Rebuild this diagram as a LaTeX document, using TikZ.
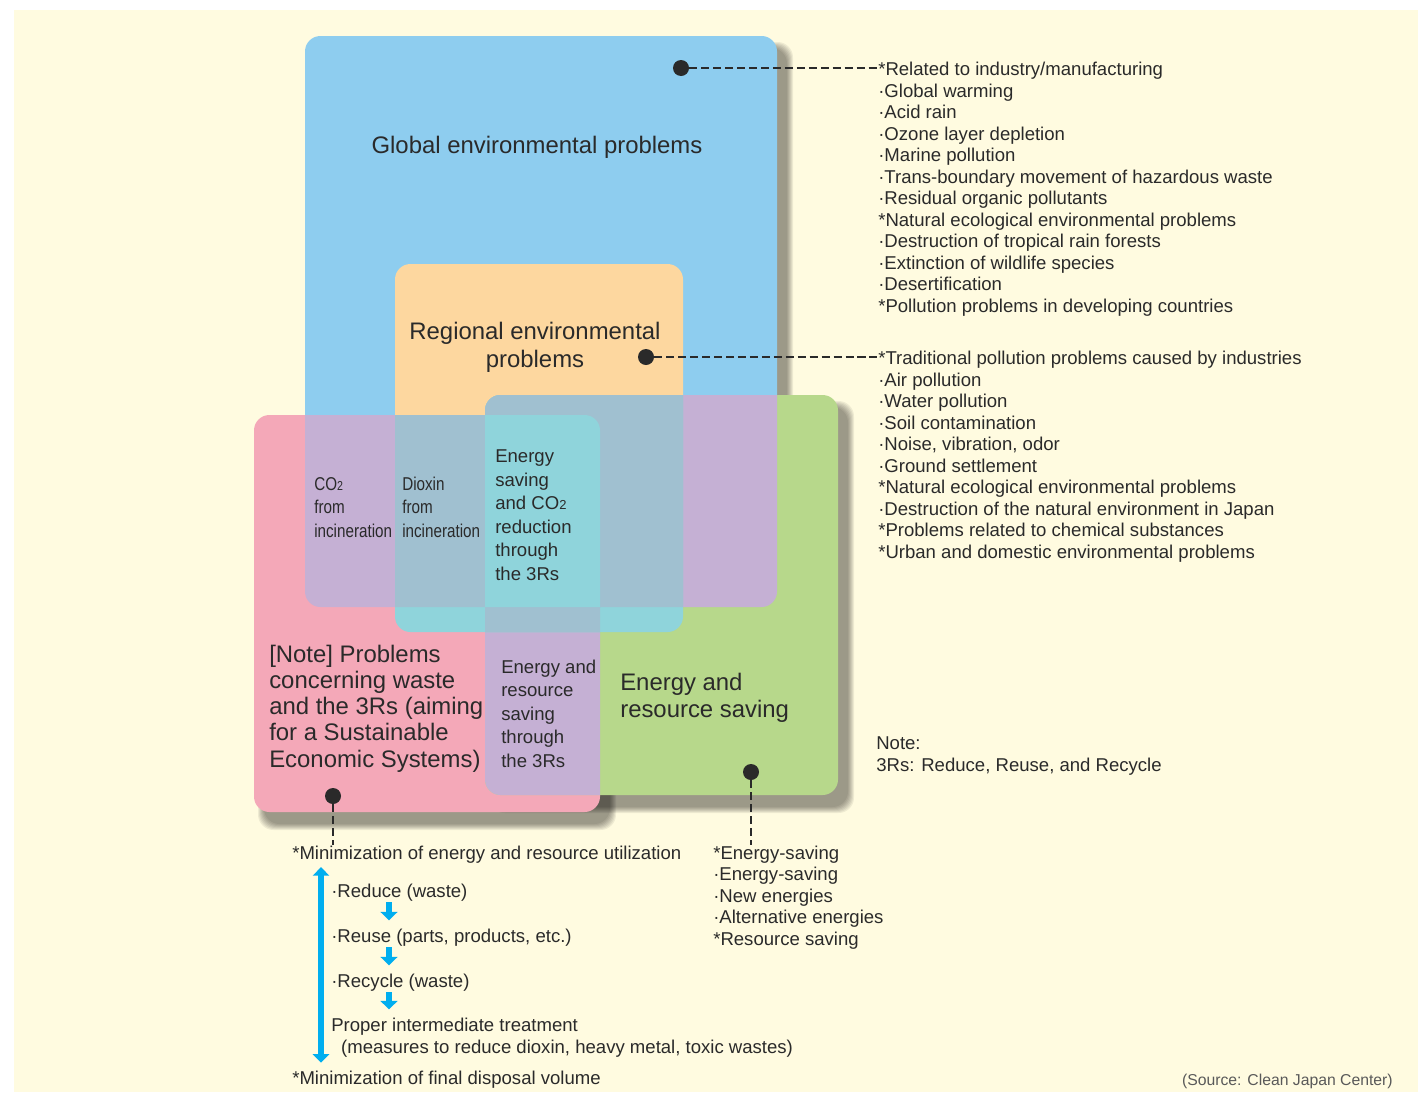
\documentclass[tikz,border=0pt]{standalone}
\usepackage{fontspec}
\setmainfont{Liberation Sans}
\newfontfamily\narrowfont[FakeStretch=0.82]{Liberation Sans}
\usetikzlibrary{arrows.meta}

\definecolor{bgcol}{HTML}{FFFBE0}
\definecolor{globcol}{HTML}{8ECDEF}
\definecolor{regcol}{HTML}{FDD79F}
\definecolor{wastecol}{HTML}{F4A8B8}
\definecolor{savecol}{HTML}{B7D88B}
\definecolor{mixpurple}{HTML}{C5B0D4}
\definecolor{mixgray}{HTML}{A0C0D0}
\definecolor{mixcyan}{HTML}{8FD4DB}
\definecolor{txtcol}{HTML}{2A2A2A}
\definecolor{arrcol}{HTML}{00AEEF}

\newcommand{\subtwo}{\scalebox{0.7}{2}}
\newcommand{\bul}{\textperiodcentered}

\begin{document}
\begin{tikzpicture}[x=0.025cm, y=-0.025cm]

% ---------- styles ----------
\tikzset{
  globpath/.style={insert path={(305,36) rectangle (777,607)}},
  regpath/.style={insert path={(395,264) rectangle (683,632)}},
  wastepath/.style={insert path={(254,415) rectangle (600,812)}},
  savepath/.style={insert path={(485,395) rectangle (838,795)}},
  bigtxt/.style={font=\fontsize{17}{18.6}\selectfont, text=txtcol,
    inner sep=0pt, align=left, anchor=base west},
  celltxt/.style={font=\fontsize{13.2}{16.7}\selectfont, text=txtcol,
    inner sep=0pt, align=left, anchor=base west},
  narrowtxt/.style={celltxt, font=\narrowfont\fontsize{13.2}{16.7}\selectfont},
  listtxt/.style={font=\fontsize{13.2}{15.26}\selectfont, text=txtcol,
    inner sep=0pt, align=left, anchor=base west},
  srctxt/.style={font=\fontsize{11.2}{13}\selectfont, text=black!65,
    inner sep=0pt, anchor=base east},
  dot/.style={circle, fill=txtcol, inner sep=0pt, minimum size=0.4cm},
  leader/.style={draw=txtcol, line width=0.9pt, dash pattern=on 5.7pt off 2.8pt},
  steparr/.style={draw=arrcol, line width=4pt,
    -{Triangle[width=12pt, length=6pt]}},
  spanarr/.style={draw=arrcol, line width=4pt,
    {Triangle[width=11.4pt, length=6pt]}-{Triangle[width=11.4pt, length=6pt]}}
}

% ---------- shadow macro ----------
\newcommand{\boxshadow}[4]{%
  % #1,#2 = top left, #3,#4 = bottom right
  \foreach \k in {0,...,6} {
    \fill[black, opacity=0.065, rounded corners=11pt]
      ({#1+4+\k},{#2+6+\k}) rectangle ({#3+16-\k},{#4+18-\k});
  }
}

% ---------- background ----------
\useasboundingbox (0,0) rectangle (1418,1092);
\fill[white] (0,0) rectangle (1418,1092);
\fill[bgcol] (14,10) rectangle (1418,1092);

\boxshadow{305}{36}{777}{607}
\boxshadow{254}{415}{600}{812}
\boxshadow{485}{395}{838}{795}

% ---------- boxes ----------
\begin{scope}[rounded corners=11pt]
  \fill[globcol, globpath];
  \fill[regcol, regpath];
  \fill[wastecol, wastepath];
  \fill[savecol, savepath];

  % two boxes
  \begin{scope}
    \clip[wastepath];
    \fill[mixpurple, globpath];
    \fill[mixpurple, savepath];
  \end{scope}
  \begin{scope}
    \clip[savepath];
    \fill[mixpurple, globpath];
  \end{scope}
  \begin{scope}
    \clip[regpath];
    \fill[mixcyan, wastepath];
    \fill[mixcyan, savepath];
  \end{scope}

  % three boxes
  \begin{scope}
    \clip[regpath];
    \clip[wastepath];
    \fill[mixgray, globpath];
    \fill[mixgray, savepath];
  \end{scope}
  \begin{scope}
    \clip[regpath];
    \clip[savepath];
    \fill[mixgray, globpath];
  \end{scope}

  % all four
  \begin{scope}
    \clip[regpath];
    \clip[wastepath];
    \clip[savepath];
    \fill[mixcyan, globpath];
  \end{scope}
\end{scope}

% ---------- box labels (multi-line: placed at last baseline) ----------
\node[bigtxt, anchor=base] (globtitle) at (537,153) {Global environmental problems};
\node[bigtxt, align=center, anchor=base, font=\fontsize{17}{19.5}\selectfont]
  (regtitle) at (535,367) {Regional environmental\\problems};
\node[narrowtxt] (co2) at (314,537) {CO\subtwo\\from\\incineration};
\node[narrowtxt] (dioxin) at (402,537) {Dioxin\\from\\incineration};
\node[celltxt] (co2cut) at (495,580) {Energy\\saving\\and CO\subtwo\\reduction\\through\\the 3Rs};
\node[celltxt] (rrrsave) at (501,767) {Energy and\\resource\\saving\\through\\the 3Rs};
\node[bigtxt] (wastetitle) at (269,767)
  {[Note] Problems\\concerning waste\\and the 3Rs (aiming\\for a Sustainable\\Economic Systems)};
\node[bigtxt] (savetitle) at (620,717) {Energy and\\resource saving};

% ---------- dots ----------
\node[dot] (gdot) at (681,68) {};
\node[dot] (rdot) at (646,357) {};
\node[dot] (wdot) at (333,796) {};
\node[dot] (sdot) at (751,772) {};

% ---------- lists ----------
\node[listtxt] (glist) at (878,312) {%
  *Related to industry/manufacturing\\
  \bul Global warming\\
  \bul Acid rain\\
  \bul Ozone layer depletion\\
  \bul Marine pollution\\
  \bul Trans-boundary movement of hazardous waste\\
  \bul Residual organic pollutants\\
  *Natural ecological environmental problems\\
  \bul Destruction of tropical rain forests\\
  \bul Extinction of wildlife species\\
  \bul Desertification\\
  *Pollution problems in developing countries};

\node[listtxt] (rlist) at (878,558) {%
  *Traditional pollution problems caused by industries\\
  \bul Air pollution\\
  \bul Water pollution\\
  \bul Soil contamination\\
  \bul Noise, vibration, odor\\
  \bul Ground settlement\\
  *Natural ecological environmental problems\\
  \bul Destruction of the natural environment in Japan\\
  *Problems related to chemical substances\\
  *Urban and domestic environmental problems};

\node[listtxt] (note) at (876,771) {Note:\\3Rs: Reduce, Reuse, and Recycle};

\node[listtxt] (slist) at (713,945) {%
  *Energy-saving\\
  \bul Energy-saving\\
  \bul New energies\\
  \bul Alternative energies\\
  *Resource saving};

\node[listtxt] (minE) at (292,859) {*Minimization of energy and resource utilization};
\node[listtxt] (reduce) at (331,897) {\bul Reduce (waste)};
\node[listtxt] (reuse) at (331,942) {\bul Reuse (parts, products, etc.)};
\node[listtxt] (recycle) at (331,987) {\bul Recycle (waste)};
\node[listtxt, font=\fontsize{13.2}{15.6}\selectfont] (treat) at (331,1053)
  {Proper intermediate treatment\\\hspace*{7pt}(measures to reduce dioxin, heavy metal, toxic wastes)};
\node[listtxt] (minF) at (292,1084) {*Minimization of final disposal volume};

\node[srctxt] (src) at (1393,1085) {(Source: Clean Japan Center)};

% ---------- leaders ----------
\draw[leader] (gdot) -- (gdot -| glist.west);
\draw[leader] (rdot) -- (rdot -| rlist.west);
\draw[leader] (wdot) -- (wdot |- minE.north);
\draw[leader] (sdot) -- (sdot |- slist.north);

% ---------- 3R arrows ----------
\coordinate (stepx) at (389,0);
\coordinate (spanx) at (321,0);
\draw[steparr, shorten <=0.03cm, shorten >=0.2cm] (reduce.south -| stepx) -- (reuse.north -| stepx);
\draw[steparr, shorten <=0.03cm, shorten >=0.2cm] (reuse.south -| stepx) -- (recycle.north -| stepx);
\draw[steparr, shorten <=0.03cm, shorten >=0.2cm] (recycle.south -| stepx) -- (treat.north -| stepx);
\draw[spanarr, shorten <=0.1cm, shorten >=0.19cm] (minE.south -| spanx) -- (minF.north -| spanx);

\end{tikzpicture}
\end{document}
